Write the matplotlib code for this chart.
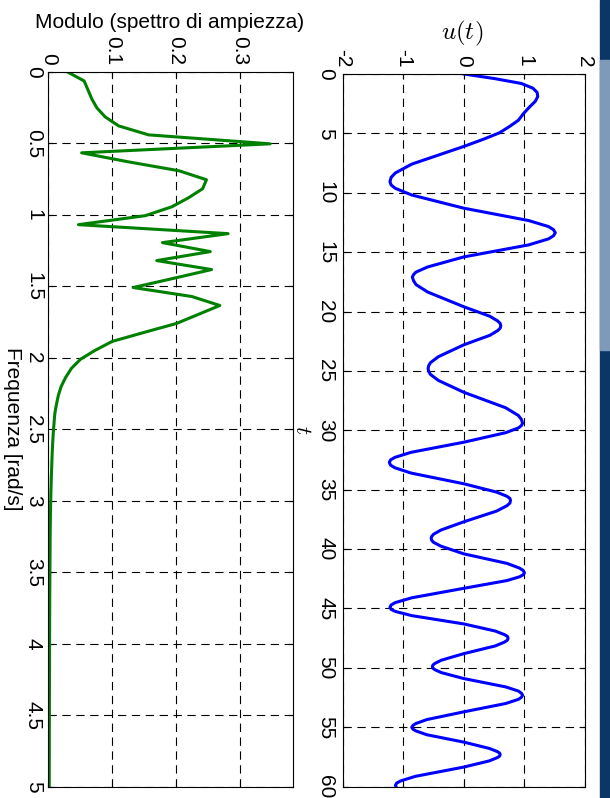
import numpy as np
import matplotlib
matplotlib.use("Agg")
import matplotlib.pyplot as plt
from matplotlib.patches import Rectangle

plt.rcParams["font.family"] = ["Liberation Sans", "DejaVu Sans"]
plt.rcParams["font.size"] = 15
plt.rcParams["axes.unicode_minus"] = False
plt.rcParams["mathtext.fontset"] = "cm"
plt.rcParams["lines.scale_dashes"] = False

# spectrum: FFT bins (step 2*pi/100 rad/s) and magnitude
freq_step = 2 * np.pi / 100
modulo = [0.030, 0.056, 0.062, 0.068, 0.076, 0.089, 0.110, 0.157, 0.348, 0.052,
          0.125, 0.205, 0.248, 0.242, 0.220, 0.194, 0.152, 0.047, 0.282, 0.179,
          0.254, 0.170, 0.256, 0.195, 0.133, 0.225, 0.269, 0.235, 0.201, 0.150,
          0.100, 0.073, 0.050, 0.036, 0.027, 0.020, 0.0155, 0.0125, 0.010, 0.0088,
          0.0077, 0.0068, 0.0061, 0.0055, 0.0050, 0.0045, 0.0041, 0.0037, 0.0034, 0.0031,
          0.0029, 0.0027, 0.0026, 0.0025, 0.0024, 0.0023, 0.0022, 0.0021, 0.0020, 0.0019,
          0.0019, 0.0018, 0.0018, 0.0017, 0.0017, 0.0016, 0.0016, 0.0015, 0.0015, 0.0015,
          0.0014, 0.0014, 0.0014, 0.0013, 0.0013, 0.0013, 0.0013, 0.0012, 0.0012, 0.0012,
          0.0012]
freq = np.arange(len(modulo)) * freq_step

# input signal u(t)
t = [0.0, 0.4, 0.8, 1.2, 1.55, 1.9, 2.3, 2.75, 3.3, 3.9, 4.4, 4.95, 5.5, 6.1,
     7.59, 8.33, 8.70, 9.07, 9.35, 9.63, 10.19, 11.3,
     12.34, 12.85, 13.11, 13.37, 13.62, 13.88, 14.39, 15.4,
     16.25, 16.68, 16.89, 17.1, 17.41, 17.73, 18.35, 19.6,
     20.4, 20.8, 21.0, 21.2, 21.4, 21.6, 22.0, 22.8,
     23.8, 24.3, 24.55, 24.8, 25.05, 25.3, 25.8, 26.8,
     28.1, 28.75, 29.08, 29.4, 29.6, 29.8, 30.2, 31.0,
     31.85, 32.28, 32.49, 32.7, 32.93, 33.15, 33.6, 34.5,
     35.2, 35.55, 35.73, 35.9, 36.13, 36.35, 36.8, 37.7,
     38.4, 38.75, 38.93, 39.1, 39.26, 39.43, 39.75, 40.4,
     41.2, 41.6, 41.8, 42.0, 42.16, 42.33, 42.65, 43.3,
     44.1, 44.5, 44.7, 44.9, 45.08, 45.25, 45.6, 46.3,
     46.9, 47.2, 47.35, 47.5, 47.66, 47.83, 48.15, 48.8,
     49.35, 49.63, 49.76, 49.9, 50.03, 50.15, 50.4, 50.9,
     51.6, 51.95, 52.13, 52.3, 52.48, 52.65, 53.0, 53.7,
     54.35, 54.68, 54.84, 55.0, 55.16, 55.31, 55.63, 56.25,
     56.78, 57.04, 57.17, 57.3, 57.43, 57.56, 57.83, 58.35,
     59.13, 59.51, 59.7, 59.9, 60.0]
u = [0.00, 0.52, 0.95, 1.14, 1.21, 1.22, 1.18, 1.09, 0.99, 0.90, 0.76, 0.59, 0.32, 0.00,
     -0.86, -1.13, -1.20, -1.22, -1.20, -1.13, -0.86, 0.00,
     1.07, 1.40, 1.48, 1.51, 1.48, 1.40, 1.07, 0.00,
     -0.60, -0.79, -0.83, -0.85, -0.83, -0.79, -0.60, 0.00,
     0.43, 0.56, 0.60, 0.61, 0.60, 0.56, 0.43, 0.00,
     -0.42, -0.55, -0.58, -0.59, -0.58, -0.55, -0.42, 0.00,
     0.69, 0.90, 0.95, 0.97, 0.95, 0.90, 0.69, 0.00,
     -0.87, -1.14, -1.21, -1.23, -1.21, -1.14, -0.87, 0.00,
     0.54, 0.71, 0.76, 0.77, 0.76, 0.71, 0.54, 0.00,
     -0.38, -0.50, -0.53, -0.54, -0.53, -0.50, -0.38, 0.00,
     0.71, 0.92, 0.98, 1.00, 0.98, 0.92, 0.71, 0.00,
     -0.86, -1.13, -1.20, -1.22, -1.20, -1.13, -0.86, 0.00,
     0.52, 0.67, 0.72, 0.73, 0.72, 0.67, 0.52, 0.00,
     -0.37, -0.48, -0.51, -0.52, -0.51, -0.48, -0.37, 0.00,
     0.69, 0.90, 0.95, 0.97, 0.95, 0.90, 0.69, 0.00,
     -0.61, -0.79, -0.84, -0.86, -0.84, -0.79, -0.61, 0.00,
     0.42, 0.55, 0.59, 0.60, 0.59, 0.55, 0.42, 0.00,
     -0.80, -1.04, -1.11, -1.13, -1.12]

freq_ticks = np.arange(0, 5.01, 0.5)
freq_labels = ["0", "0.5", "1", "1.5", "2", "2.5", "3", "3.5", "4", "4.5", "5"]
mod_ticks = [0, 0.1, 0.2, 0.3]
mod_labels = ["0", "0.1", "0.2", "0.3"]
t_ticks = np.arange(0, 61, 5)
u_ticks = [-2, -1, 0, 1, 2]

fig = plt.figure(figsize=(6.1, 7.98), dpi=100)
fig.patch.set_facecolor("white")

ax1 = fig.add_axes([0.0795, 0.0142, 0.4003, 0.8956])
ax2 = fig.add_axes([0.5618, 0.0142, 0.3972, 0.8931])

ax1.plot(modulo, freq, color="#008000", lw=2.2)
ax1.set_xlim(0, 0.3834)
ax1.set_ylim(5, 0)
ax1.set_xticks(mod_ticks, mod_labels)
ax1.set_yticks(freq_ticks, freq_labels)

ax2.plot(u, t, color="#0000FF", lw=2.2)
ax2.set_xlim(-2, 2)
ax2.set_ylim(60, 0)
ax2.set_xticks(u_ticks, [str(v) for v in u_ticks])
ax2.set_yticks(t_ticks, [str(v) for v in t_ticks])

for ax, ypad in ((ax1, 4), (ax2, 5.5)):
    ax.grid(True, color="black", linestyle=(0, (6, 4)), linewidth=0.8)
    ax.tick_params(direction="in", length=3.5, width=0.8,
                   top=True, bottom=True, left=True, right=True,
                   labeltop=True, labelbottom=False, labelleft=True, labelright=False)
    ax.tick_params(axis="x", pad=5)
    ax.tick_params(axis="y", pad=ypad)
    for lbl in ax.get_xticklabels():
        lbl.set_rotation(270)
        lbl.set_ha("center")
        lbl.set_va("bottom")
    for lbl in ax.get_yticklabels():
        lbl.set_rotation(270)
        lbl.set_ha("right")
        lbl.set_va("center")
    for s in ax.spines.values():
        s.set_linewidth(0.8)

fig.text(169.5 / 610, 1 - 23 / 798, "Modulo (spettro di ampiezza)", ha="center", va="center")
fig.text(12 / 610, 1 - 429 / 798, "Frequenza [rad/s]", rotation=270, ha="center", va="center")
fig.text(462 / 610, 1 - 33 / 798, r"$u(t)$", fontsize=18, ha="center", va="center")
fig.text(302 / 610, 1 - 430 / 798, r"$t$", fontsize=16, rotation=270, ha="center", va="center")

# dark strip on the right edge
fig.patches.append(Rectangle((600 / 610, 0), 10 / 610, 1, transform=fig.transFigure,
                             color="#0b3766", zorder=-1))
fig.patches.append(Rectangle((600 / 610, 1 - 350 / 798), 10 / 610, 290 / 798,
                             transform=fig.transFigure, color="#7f99b8", zorder=-1))

fig.savefig("out.png", dpi=100)
